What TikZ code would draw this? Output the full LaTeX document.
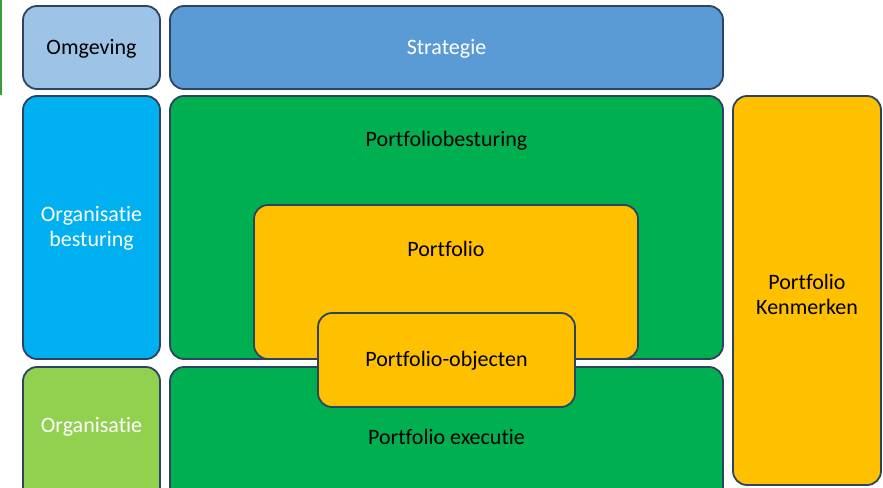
\documentclass[tikz,border=0pt]{standalone}
\usepackage{fontspec}
\setmainfont[Ligatures=CommonOff]{Carlito}
\definecolor{omg}{HTML}{9DC3E6}
\definecolor{strat}{HTML}{5B9BD5}
\definecolor{orgb}{HTML}{00B0F0}
\definecolor{org}{HTML}{92D050}
\definecolor{grn}{HTML}{00B050}
\definecolor{ylw}{HTML}{FFC000}
\definecolor{edge}{HTML}{2B4560}
\definecolor{leftline}{HTML}{3C9A3C}
\tikzset{
  box/.style={draw=edge, line width=1.8pt, rounded corners=14pt, inner sep=0pt},
  lbl/.style={font=\fontsize{22}{25}\selectfont, align=center, inner sep=0pt}
}
\begin{document}
\begin{tikzpicture}[x=1pt,y=-1pt]
\clip (0,0) rectangle (883,487);
\fill[white] (0,0) rectangle (883,487);
\fill[leftline] (0,0) rectangle (2,95);
% top row
\draw[box, fill=omg] (23,6) rectangle (160,89);
\node[lbl, text=black] (omgeving) at (91.5,48.5) {Omgeving};
\draw[box, fill=strat] (170,6) rectangle (723,89);
\node[lbl, text=white] (strategie) at (446.5,48.5) {Strategie};
% middle row
\draw[box, fill=orgb] (23,96) rectangle (160,359);
\node[lbl, text=white] (orgbest) at (91.5,228.5) {Organisatie\\besturing};
\draw[box, fill=grn] (170,96) rectangle (723,359);
\node[lbl, text=black] (pfbest) at (446.5,141) {Portfoliobesturing};
% bottom row
\draw[box, fill=org] (23,367) rectangle (160,510);
\node[lbl, text=white] (organisatie) at (91.5,427) {Organisatie};
\draw[box, fill=grn] (170,367) rectangle (723,510);
\node[lbl, text=black] (pfexec) at (446.5,437) {Portfolio executie};
% portfolio
\draw[box, fill=ylw] (254,205) rectangle (638,359);
\node[lbl, text=black] (portfolio) at (446,249) {Portfolio};
\draw[box, fill=ylw] (318,313) rectangle (575,407);
\node[lbl, text=black] (pfobj) at (446.5,361) {Portfolio-objecten};
% right column
\draw[box, fill=ylw] (733,96) rectangle (881,485);
\node[lbl, text=black] (kenmerken) at (807,294) {Portfolio\\Kenmerken};
\end{tikzpicture}
\end{document}
